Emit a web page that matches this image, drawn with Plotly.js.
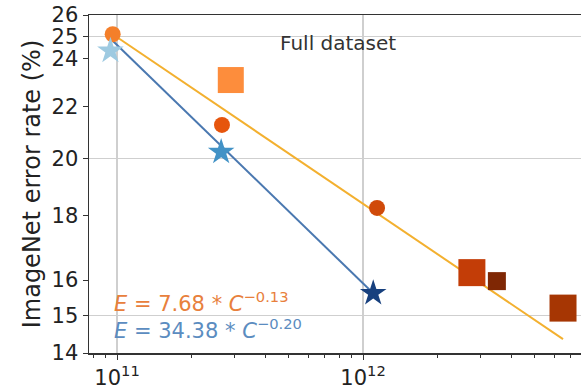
<!DOCTYPE html>
<html>
<head>
<meta charset="utf-8">
<script src="https://cdn.plot.ly/plotly-3.0.1.min.js"></script>
<style>html,body{margin:0;padding:0;background:#fff;}#chart{width:581px;height:389px;}</style>
</head>
<body>
<div id="chart"></div>
<script>
// Compute (x) and error rate (%)
const circleX = [9.6e10, 2.67e11, 1.14e12];
const circleY = [25.1, 21.26, 18.26];
const circleColors = ['#f47f2a', '#e6550d', '#d04a0a'];

const starX = [9.4e10, 2.65e11, 1.1e12];
const starY = [24.35, 20.23, 15.62];
const starColors = ['#9ecae1', '#4292c6', '#17407e'];

const squareX = [2.9e11, 2.77e12, 3.5e12, 6.5e12];
const squareY = [23.08, 16.22, 15.97, 15.2];
const squareColors = ['#fd8d3c', '#c33d07', '#7f2704', '#a63603'];
const squareSizes = [26, 27, 18, 27];

// Fitted power-law lines (end points)
const fitOrangeX = [9.6e10, 6.5e12];
const fitOrangeY = [25.1, 14.36];
const fitBlueX = [9.6e10, 1.1e12];
const fitBlueY = [24.8, 15.62];

const yTicks = [14, 15, 16, 18, 20, 22, 24, 25, 26];
const yGrid = [15, 20, 25];
const xTicks = [1e11, 1e12];
const xTickText = ['10<sup>11</sup>', '10<sup>12</sup>'];
const xMinor = [8e10, 9e10, 2e11, 3e11, 4e11, 5e11, 6e11, 7e11, 8e11, 9e11,
                2e12, 3e12, 4e12, 5e12, 6e12, 7e12];

const traces = [
  {x: fitOrangeX, y: fitOrangeY, mode: 'lines', line: {color: '#f3b02f', width: 2}, hoverinfo: 'skip'},
  {x: fitBlueX, y: fitBlueY, mode: 'lines', line: {color: '#4a78b0', width: 2}, hoverinfo: 'skip'},
  {x: squareX, y: squareY, mode: 'markers', marker: {symbol: 'square', size: squareSizes, color: squareColors, opacity: 1, line: {width: 0}}},
  {x: circleX, y: circleY, mode: 'markers', marker: {symbol: 'circle', size: 16, color: circleColors, opacity: 1, line: {width: 0}}},
  {x: starX, y: starY, mode: 'markers', marker: {symbol: 'star', size: 20, color: starColors, opacity: 1, line: {width: 0}}}
];

const font = 'DejaVu Sans, sans-serif';
const layout = {
  width: 581, height: 389,
  margin: {l: 89, r: 0, t: 15, b: 36},
  paper_bgcolor: '#fff', plot_bgcolor: '#fff',
  showlegend: false,
  font: {family: font, color: '#222'},
  xaxis: {
    type: 'log', range: [10.886, 12.886],
    tickmode: 'array', tickvals: xTicks, ticktext: xTickText,
    ticks: 'outside', ticklen: 5, tickcolor: '#333',
    tickfont: {size: 21, family: font, color: '#222'},
    showgrid: true, gridcolor: '#cfcfcf', gridwidth: 1.5,
    showline: true, linecolor: '#333', linewidth: 1.5, mirror: true,
    zeroline: false,
    minor: {tickmode: 'array', tickvals: xMinor, ticks: 'outside', ticklen: 3, tickcolor: '#333', showgrid: false}
  },
  yaxis: {
    type: 'log', range: [Math.log10(14), Math.log10(26)],
    tickmode: 'array', tickvals: yTicks, ticktext: yTicks.map(String),
    ticks: 'outside', ticklen: 5, tickcolor: '#333',
    tickfont: {size: 21, family: font, color: '#222'},
    showgrid: false,
    showline: true, linecolor: '#333', linewidth: 1.5,
    zeroline: false,
    title: {text: 'ImageNet error rate (%)', font: {size: 24, family: font, color: '#222'}, standoff: 4}
  },
  yaxis2: {
    type: 'log', range: [Math.log10(14), Math.log10(26)], overlaying: 'y',
    tickmode: 'array', tickvals: yGrid, showticklabels: false, ticks: '',
    showgrid: true, gridcolor: '#cfcfcf', gridwidth: 1.5, showline: false, zeroline: false
  },
  annotations: [
    {xref: 'paper', yref: 'paper', x: 0.506, y: 0.917, text: 'Full dataset', showarrow: false,
     font: {size: 20, family: font, color: '#333'}, xanchor: 'center', yanchor: 'middle'},
    {xref: 'paper', yref: 'paper', x: 0.047, y: 0.151, text: '<i>E</i> = 7.68 * <i>C</i><sup>−0.13</sup>', showarrow: false,
     font: {size: 21, family: font, color: '#e8803c'}, xanchor: 'left', yanchor: 'middle'},
    {xref: 'paper', yref: 'paper', x: 0.047, y: 0.071, text: '<i>E</i> = 34.38 * <i>C</i><sup>−0.20</sup>', showarrow: false,
     font: {size: 21, family: font, color: '#5b8cc0'}, xanchor: 'left', yanchor: 'middle'}
  ]
};

// invisible point on yaxis2 so the grid axis is drawn
traces.push({x: [1e11], y: [20], yaxis: 'y2', mode: 'markers', marker: {opacity: 0}, hoverinfo: 'skip'});

Plotly.newPlot('chart', traces, layout, {displayModeBar: false, staticPlot: true});
</script>
</body>
</html>
